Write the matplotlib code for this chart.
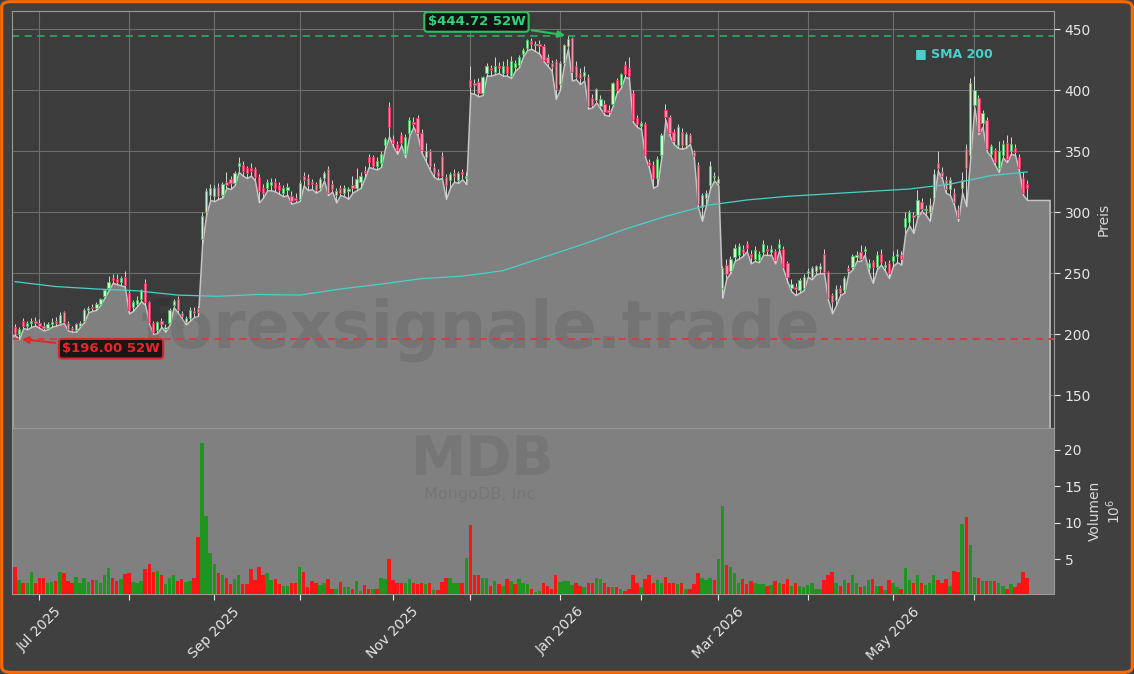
import numpy as np
import pandas as pd
import matplotlib
matplotlib.use('Agg')
import matplotlib.pyplot as plt
from matplotlib.patches import FancyBboxPatch

# trading days (NYSE holidays removed)
holidays = ['2025-07-04', '2025-09-01', '2025-11-27', '2025-12-25', '2026-01-01',
            '2026-01-19', '2026-02-16', '2026-04-03', '2026-05-25']
dates = pd.bdate_range('2025-06-23', '2026-06-18', freq='C', holidays=holidays)

opens = [206, 200, 211, 207, 209, 211, 209, 207, 205, 208,
         211, 209, 218, 209, 205, 203, 207, 211, 220, 222,
         221, 225, 231, 238, 246, 245, 243, 247, 234, 222,
         225, 229, 242, 226, 209, 203, 211, 204, 209, 224,
         229, 217, 210, 213, 219, 221, 278, 300, 314, 313,
         321, 314, 325, 327, 324, 338, 339, 336, 336, 335,
         329, 320, 320, 322, 325, 322, 316, 318, 313, 312,
         311, 330, 328, 325, 323, 320, 328, 335, 323, 314,
         320, 316, 317, 322, 320, 325, 334, 345, 345, 338,
         340, 355, 386, 360, 356, 363, 348, 365, 374, 377,
         365, 345, 350, 337, 333, 346, 329, 326, 332, 326,
         333, 328, 408, 406, 407, 398, 414, 418, 415, 420,
         414, 420, 412, 419, 421, 430, 435, 440, 437, 438,
         436, 427, 422, 424, 405, 422, 436, 443, 420, 414,
         412, 411, 394, 392, 387, 389, 384, 389, 408, 404,
         421, 418, 398, 377, 371, 372, 341, 339, 328, 347,
         384, 378, 366, 355, 366, 355, 363, 349, 339, 304,
         312, 322, 329, 324, 238, 257, 252, 263, 265, 270,
         274, 266, 262, 261, 267, 270, 267, 268, 271, 270,
         258, 238, 239, 236, 238, 250, 247, 252, 253, 266,
         251, 232, 228, 238, 236, 254, 255, 263, 267, 268,
         254, 259, 255, 266, 255, 258, 260, 264, 265, 288,
         292, 298, 298, 308, 302, 300, 312, 340, 333, 326,
         319, 316, 303, 320, 352, 347, 388, 394, 373, 376,
         348, 351, 336, 347, 357, 350, 353, 345, 328, 323]

highs = [208, 206, 213, 211, 213, 214, 212, 210, 210, 213,
         214, 218, 219, 211, 207, 209, 211, 221, 223, 225,
         226, 230, 237, 248, 249, 249, 248, 252, 236, 228,
         231, 237, 245, 227, 211, 211, 213, 208, 221, 229,
         231, 219, 215, 222, 222, 223, 300, 320, 323, 322,
         324, 325, 333, 330, 334, 345, 342, 338, 340, 337,
         331, 323, 327, 328, 328, 325, 322, 324, 317, 316,
         326, 333, 331, 327, 325, 329, 334, 338, 326, 320,
         322, 322, 321, 330, 336, 333, 338, 348, 347, 345,
         350, 362, 390, 363, 358, 366, 364, 378, 378, 380,
         368, 357, 352, 340, 335, 349, 331, 333, 335, 334,
         335, 333, 420, 409, 410, 412, 422, 421, 427, 423,
         424, 426, 428, 425, 429, 435, 442, 443, 440, 441,
         438, 430, 425, 426, 424, 438, 444.72, 444, 424, 418,
         420, 413, 397, 402, 396, 392, 388, 407, 410, 414,
         424, 427, 400, 380, 375, 374, 344, 342, 346, 365,
         389, 380, 368, 372, 369, 366, 365, 351, 341, 316,
         318, 342, 333, 330, 256, 262, 264, 274, 275, 273,
         276, 269, 272, 268, 277, 273, 273, 270, 278, 272,
         260, 245, 242, 246, 249, 254, 256, 257, 258, 270,
         252, 234, 240, 240, 248, 257, 266, 268, 273, 272,
         262, 261, 268, 270, 260, 261, 268, 270, 268, 300,
         302, 300, 318, 312, 306, 312, 335, 350, 337, 330,
         329, 320, 306, 333, 356, 410, 412, 396, 384, 378,
         356, 353, 358, 359, 363, 362, 356, 348, 333, 326]

lows = [199, 196, 205, 204, 206, 207, 205, 203, 204, 206,
        207, 208, 209, 203, 202, 202, 206, 210, 218, 219,
        220, 224, 230, 236, 242, 241, 240, 239, 217, 219,
        223, 227, 224, 208, 200, 201, 206, 202, 208, 222,
        218, 213, 208, 211, 214, 215, 273, 298, 310, 309,
        311, 312, 320, 319, 322, 333, 330, 328, 330, 326,
        308, 312, 318, 318, 317, 315, 313, 314, 307, 308,
        309, 322, 318, 319, 316, 318, 326, 314, 317, 308,
        314, 313, 311, 316, 318, 320, 328, 337, 336, 335,
        337, 352, 362, 354, 348, 355, 345, 363, 370, 363,
        349, 342, 335, 329, 327, 328, 311, 320, 325, 324,
        327, 323, 398, 397, 395, 396, 412, 412, 413, 414,
        412, 412, 410, 416, 419, 428, 433, 434, 432, 430,
        424, 420, 416, 393, 400, 420, 434, 408, 409, 405,
        408, 385, 386, 390, 385, 380, 379, 387, 398, 402,
        411, 410, 374, 370, 368, 345, 336, 320, 322, 345,
        376, 363, 356, 353, 352, 353, 356, 344, 304, 293,
        306, 320, 326, 322, 230, 246, 250, 260, 262, 264,
        268, 258, 260, 259, 265, 265, 265, 258, 269, 253,
        243, 235, 232, 234, 236, 247, 245, 249, 250, 250,
        228, 217, 224, 232, 234, 250, 253, 260, 260, 265,
        251, 242, 253, 257, 252, 246, 256, 259, 257, 283,
        289, 283, 296, 301, 298, 293, 310, 334, 328, 316,
        314, 306, 293, 316, 305, 345, 386, 364, 370, 350,
        346, 339, 333, 345, 341, 348, 347, 334, 314, 310]

closes = [201, 204, 207, 209, 211, 209, 207, 205, 208, 210,
          209, 216, 210, 204, 203, 208, 209, 220, 221, 221,
          225, 229, 236, 243, 244, 243, 246, 240, 220, 226,
          228, 236, 226, 210, 202, 210, 208, 206, 220, 227,
          220, 215, 213, 220, 217, 218, 297, 317, 320, 320,
          313, 323, 322, 324, 332, 340, 334, 332, 334, 329,
          317, 316, 325, 325, 320, 318, 320, 321, 309, 310,
          324, 326, 322, 323, 318, 327, 332, 316, 319, 317,
          316, 320, 319, 320, 327, 330, 332, 341, 338, 342,
          348, 360, 370, 357, 351, 357, 362, 376, 372, 365,
          351, 350, 338, 332, 330, 330, 322, 331, 330, 332,
          331, 330, 403, 404, 398, 411, 420, 417, 420, 418,
          420, 414, 424, 422, 427, 433, 441, 438, 438, 436,
          425, 422, 419, 401, 422, 437, 442, 415, 411, 410,
          415, 387, 388, 401, 393, 382, 382, 406, 400, 413,
          413, 412, 376, 372, 373, 347, 339, 328, 344, 363,
          378, 365, 358, 370, 355, 364, 357, 346, 307, 314,
          316, 338, 329, 327, 254, 249, 262, 271, 272, 267,
          271, 263, 269, 266, 274, 268, 270, 261, 274, 255,
          247, 241, 237, 244, 247, 252, 254, 256, 256, 251,
          230, 226, 237, 234, 246, 252, 264, 265, 262, 270,
          258, 255, 265, 259, 257, 250, 264, 266, 262, 295,
          300, 296, 310, 303, 303, 306, 331, 336, 330, 319,
          326, 308, 295, 326, 336, 406, 400, 366, 381, 352,
          354, 341, 350, 356, 344, 356, 349, 336, 316, 320]

# volume in millions
volumes = [3.9, 2.1, 1.8, 1.7, 3.3, 1.8, 2.4, 2.4, 1.7, 1.9,
           2.0, 3.3, 3.1, 2.0, 1.7, 2.6, 1.8, 2.5, 1.9, 2.1,
           2.1, 1.7, 2.8, 3.8, 2.5, 2.0, 2.3, 3.0, 3.1, 1.9,
           1.7, 2.0, 3.7, 4.3, 3.3, 3.4, 2.8, 1.6, 2.4, 2.9,
           2.0, 2.3, 1.9, 2.0, 2.5, 8.0, 20.9, 10.9, 5.9, 4.4,
           3.1, 2.9, 2.5, 1.6, 2.3, 2.9, 1.6, 1.6, 3.7, 2.1,
           3.9, 2.8, 3.1, 2.1, 2.3, 1.6, 1.4, 1.4, 1.8, 1.7,
           3.9, 3.3, 1.2, 2.0, 1.7, 1.5, 1.7, 2.3, 1.0, 1.0,
           1.9, 1.2, 1.2, 1.0, 2.0, 0.6, 1.5, 1.0, 1.0, 1.0,
           2.5, 2.3, 5.1, 2.1, 1.8, 1.8, 1.8, 2.3, 1.7, 1.6,
           1.7, 1.6, 1.7, 0.8, 0.8, 1.9, 2.4, 2.4, 1.8, 1.7,
           1.7, 5.2, 9.7, 2.8, 2.8, 2.4, 2.4, 1.4, 2.0, 1.6,
           1.4, 2.3, 2.0, 1.6, 2.3, 1.7, 1.6, 0.9, 0.5, 0.6,
           1.8, 1.3, 1.0, 2.8, 1.9, 2.0, 2.0, 1.5, 1.8, 1.4,
           1.2, 1.7, 1.8, 2.5, 2.3, 1.7, 1.2, 1.2, 1.2, 1.0,
           0.6, 1.0, 2.9, 1.8, 1.2, 2.3, 2.8, 1.8, 2.1, 1.7,
           2.6, 1.8, 1.8, 1.6, 1.8, 1.0, 1.0, 1.6, 3.1, 2.5,
           2.1, 2.4, 2.1, 5.1, 12.3, 4.2, 3.9, 3.1, 1.8, 2.3,
           1.6, 2.0, 1.8, 1.6, 1.6, 1.4, 1.5, 2.0, 1.7, 1.6,
           2.3, 1.4, 1.7, 1.4, 1.2, 1.5, 1.7, 1.0, 1.0, 2.1,
           2.8, 3.3, 1.7, 1.4, 2.1, 1.7, 2.8, 1.7, 1.2, 1.4,
           2.1, 2.3, 1.4, 1.4, 0.8, 2.1, 1.7, 1.2, 0.9, 3.8,
           2.1, 1.7, 2.9, 1.8, 1.5, 1.7, 2.9, 2.1, 1.8, 2.3,
           1.4, 3.4, 3.3, 9.8, 10.8, 6.9, 2.6, 2.4, 2.0, 2.0,
           2.0, 2.0, 1.7, 1.4, 1.0, 1.6, 1.2, 1.8, 3.2, 2.4]

# g = up day, r = down day (colour of the volume bar)
vol_dir = ('rgrggrrrgg' 'rgrrrggggr' 'ggggrrgrrg' 'ggrrrgrggg' 'rrggrrgggg'
           'rgrrggrrrr' 'rrggrrggrr' 'grrrrggrrg' 'rggrggrrgr' 'ggrrrrggrr'
           'rgrgrrrggg' 'rgrrrggrgr' 'grgrgggrgg' 'rrrrggggrr' 'grrggrrgrg'
           'rrrrgrrrgg' 'rrrgrgrrrg' 'ggrggrgggr' 'rrgggrgrgr' 'rgrggggggr'
           'rrgrgrggrg' 'grgrgrggrg' 'grgrgggrrr' 'grrgrggrgr' 'grggrgrrrr')

sma_idx = [0, 10, 20, 30, 40, 50, 60, 70, 80, 90, 100, 110, 120,
           130, 140, 150, 160, 170, 180, 190, 200, 210, 220, 230, 240, 249]
sma_vals = [243, 239, 237, 235.5, 232, 231, 232.5, 232, 237, 241, 245.5, 247.5, 252,
            263, 274, 286, 296.5, 305.5, 310, 313, 315, 317, 319, 323, 330, 333]

opens, highs, lows, closes = map(np.array, (opens, highs, lows, closes))
volumes = np.array(volumes)
x = np.arange(len(dates))
up = closes >= opens

fig = plt.figure(figsize=(11.34, 6.74), dpi=100, facecolor='#404040')
ax = fig.add_axes([0.0108, 0.365, 0.9187, 0.6187])
axv = fig.add_axes([0.0108, 0.1187, 0.9187, 0.2463], sharex=ax)

xlim = (-0.7, 255.6)

# price panel
ax.set_facecolor('#3c3c3c')
xa = np.concatenate([[xlim[0]], x, [x[-1] + 5.5]])
la = np.concatenate([[lows[0]], lows, [lows[-1]]])
ax.fill_between(xa, la, 0, facecolor='#808080', edgecolor='#c4c4c4', lw=1.1, zorder=1)

ax.text(0.45, 0.235, 'forexsignale.trade', transform=ax.transAxes, fontsize=47,
        fontweight='bold', color='black', alpha=0.09, ha='center', va='center', zorder=2)

ax.vlines(x, lows, highs, color='#d6d6d6', lw=0.7, zorder=3)
body_bottom = np.minimum(opens, closes)
body_h = np.maximum(np.abs(closes - opens), 0.8)
ax.bar(x, body_h, bottom=body_bottom, width=0.55,
       color=np.where(up, '#d2f2d2', '#ff8fa8'),
       edgecolor=np.where(up, '#45c060', '#f03060'), lw=0.6, zorder=4)

ax.plot(sma_idx, sma_vals, color='#48d1cc', lw=0.9, zorder=5)

hi_i = int(np.argmax(highs))
lo_i = int(np.argmin(lows))
hi, lo = highs[hi_i], lows[lo_i]
ax.axhline(hi, color='#2ea35f', ls=(0, (4, 3)), lw=1.3, zorder=2.5)
ax.axhline(lo, color='#d63b3b', ls=(0, (4, 3)), lw=1.3, zorder=2.5)

ax.annotate(f'${hi:.2f} 52W', xy=(hi_i, hi), xytext=(113.5, 456),
            ha='center', va='center', fontsize=9.5, fontweight='bold', color='#33d17a',
            bbox=dict(boxstyle='round,pad=0.25', fc='#141414', ec='#2fbf5f', lw=1.5),
            arrowprops=dict(arrowstyle='-|>', color='#2fbf5f', lw=1.5, mutation_scale=10),
            zorder=8)
ax.annotate(f'${lo:.2f} 52W', xy=(lo_i, lo), xytext=(23.6, 188),
            ha='center', va='center', fontsize=9.5, fontweight='bold', color='#e82828',
            bbox=dict(boxstyle='round,pad=0.25', fc='#1e1414', ec='#d62828', lw=1.5),
            arrowprops=dict(arrowstyle='-|>', color='#e02828', lw=1.5, mutation_scale=10),
            zorder=8)

ax.text(0.8666, 0.897, '■ SMA 200', transform=ax.transAxes, fontsize=9,
        fontweight='bold', color='#48d1cc', ha='left', va='center', zorder=8)

ax.set_ylim(123, 465)
ax.set_xlim(*xlim)
ax.yaxis.tick_right()
ax.yaxis.set_label_position('right')
ax.set_yticks([150, 200, 250, 300, 350, 400, 450])
ax.set_ylabel('Preis', color='#d8d8d8', fontsize=10)
ax.tick_params(axis='y', colors='#e6e6e6', labelsize=10, length=4)
ax.tick_params(axis='x', bottom=False, labelbottom=False)
ax.grid(True, color='#6e6e6e', lw=0.8)
ax.set_axisbelow(True)
for s in ax.spines.values():
    s.set_color('#9a9a9a')

# volume panel
axv.set_facecolor('#808080')
axv.bar(x, volumes, width=0.85, color=['#1f941f' if d == 'g' else '#ff1414' for d in vol_dir],
        zorder=3)
axv.text(0.452, 0.81, 'MDB', transform=axv.transAxes, fontsize=40, fontweight='bold',
         color='black', alpha=0.07, ha='center', va='center')
axv.text(0.449, 0.6, 'MongoDB, Inc', transform=axv.transAxes, fontsize=11.5,
         color='black', alpha=0.07, ha='center', va='center')
axv.set_ylim(volumes.min() * 0.5, volumes.max() * 1.1)
axv.yaxis.tick_right()
axv.yaxis.set_label_position('right')
axv.set_yticks([5, 10, 15, 20])
axv.set_ylabel('Volumen\n$\\mathregular{10^6}$', color='#d8d8d8', fontsize=10)
axv.tick_params(axis='y', colors='#e6e6e6', labelsize=10, length=4)

month = dates.to_period('M')
first = np.flatnonzero(np.r_[True, month[1:] != month[:-1]])[1:]
labels = [dates[i].strftime('%b %Y') if k % 2 == 0 else '' for k, i in enumerate(first)]
axv.set_xticks(first)
axv.set_xticklabels(labels, rotation=45, ha='center')
axv.tick_params(axis='x', colors='#e6e6e6', labelsize=10, length=4)
for s in axv.spines.values():
    s.set_color('#9a9a9a')

# orange frame
fig.patches.append(FancyBboxPatch((0.0015, 0.0025), 0.997, 0.995,
                                  boxstyle='round,pad=0,rounding_size=0.008',
                                  transform=fig.transFigure, fill=False,
                                  ec='#ff6a00', lw=2.2))

fig.savefig('out.png', dpi=100, facecolor=fig.get_facecolor())
